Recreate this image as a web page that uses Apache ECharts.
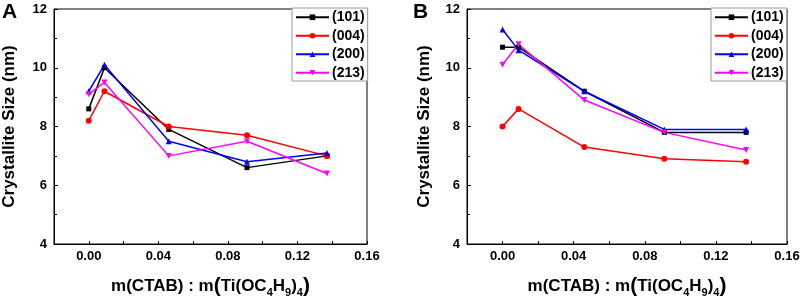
<!DOCTYPE html>
<html>
<head>
<meta charset="utf-8">
<script src="https://cdn.jsdelivr.net/npm/echarts@6/dist/echarts.min.js"></script>
<style>
  html, body { margin: 0; padding: 0; background: #fff; }
  #main { width: 803px; height: 303px; }
</style>
</head>
<body>
<div id="main"></div>
<script>
// x 轴：m(CTAB) : m(Ti(OC4H9)4)
const ratios = [0, 0.009, 0.046, 0.091, 0.137];
const seriesNames = ['(101)', '(004)', '(200)', '(213)'];

// 图 A
const a101 = [8.6, 10.0, 7.9, 6.6, 7.0];
const a004 = [8.2, 9.2, 8.0, 7.7, 7.0];
const a200 = [9.2, 10.1, 7.5, 6.8, 7.1];
const a213 = [9.1, 9.5, 7.0, 7.5, 6.4];

// 图 B
const b101 = [10.7, 10.7, 9.2, 7.8, 7.8];
const b004 = [8.0, 8.6, 7.3, 6.9, 6.8];
const b200 = [11.3, 10.6, 9.2, 7.9, 7.9];
const b213 = [10.1, 10.8, 8.9, 7.8, 7.2];

const colors = ['#000000', '#ff0000', '#0000ff', '#ff00ff'];
const symbols = ['rect', 'circle', 'triangle', 'triangle'];
const rotates = [0, 0, 0, 180];
const font = 'Arial, "Liberation Sans", sans-serif';

const chart = echarts.init(document.getElementById('main'));

function pair(xs, ys) {
    return xs.map((x, i) => [x, ys[i]]);
}

function makeX(idx) {
    return {
        type: 'value', gridIndex: idx,
        min: -0.02, max: 0.16, interval: 0.02,
        name: '{n|m(CTAB) : m}{b|(}{n|Ti(OC}{s|4}{n|H}{s|9}{n|)}{s|4}{b|)}',
        nameLocation: 'middle', nameGap: 30,
        nameTextStyle: {
            fontFamily: font,
            rich: {
                n: { fontSize: 17, fontWeight: 'bold', color: '#000', fontFamily: font, lineHeight: 24, verticalAlign: 'middle' },
                b: { fontSize: 21, fontWeight: 'bold', color: '#000', fontFamily: font, lineHeight: 24, verticalAlign: 'middle' },
                s: { fontSize: 11, fontWeight: 'bold', color: '#000', fontFamily: font, lineHeight: 24, verticalAlign: 'bottom', padding: [7, 0, 0, 0] }
            }
        },
        axisLine: { show: true, onZero: false, lineStyle: { color: '#000', width: 1 } },
        axisTick: { show: true, inside: true, length: 3, lineStyle: { color: '#000' } },
        splitLine: { show: false },
        axisLabel: {
            color: '#000', fontWeight: 'bold', fontSize: 13, fontFamily: font, margin: 6,
            formatter: function (v) {
                const k = Math.round(v * 100);
                if (k < 0 || k % 4 !== 0) return '';
                return (k / 100).toFixed(2);
            }
        }
    };
}

function makeY(idx, gap) {
    return {
        type: 'value', gridIndex: idx,
        min: 4, max: 12, interval: 2,
        name: 'Crystallite Size (nm)',
        nameLocation: 'middle', nameGap: gap,
        nameTextStyle: { color: '#000', fontWeight: 'bold', fontSize: 17, fontFamily: font },
        axisLine: { show: true, onZero: false, lineStyle: { color: '#000', width: 1 } },
        axisTick: { show: true, inside: true, length: 4, lineStyle: { color: '#000' } },
        minorTick: { show: true, splitNumber: 2, length: 3, lineStyle: { color: '#000' } },
        splitLine: { show: false },
        axisLabel: { color: '#000', fontWeight: 'bold', fontSize: 13, fontFamily: font, margin: 7 }
    };
}

function makeSeries(idx, arrs) {
    return arrs.map((ys, i) => ({
        name: seriesNames[i],
        type: 'line',
        xAxisIndex: idx, yAxisIndex: idx,
        data: pair(ratios, ys),
        symbol: symbols[i],
        symbolRotate: rotates[i],
        symbolSize: i === 0 ? 5 : 6,
        color: colors[i],
        lineStyle: { color: colors[i], width: 1.5 },
        itemStyle: { color: colors[i] },
        animation: false
    }));
}

function makeLegend(left) {
    return {
        orient: 'vertical', left: left, top: 8,
        data: seriesNames,
        itemWidth: 33, itemHeight: 7, itemGap: 2,
        padding: [1, 3, 0, 3],
        borderColor: '#999', borderWidth: 1,
        backgroundColor: '#fff',
        selectedMode: false,
        textStyle: { color: '#000', fontWeight: 'bold', fontSize: 14, lineHeight: 16.5, fontFamily: font, padding: [0, 0, 0, -2] }
    };
}

const option = {
    backgroundColor: '#fff',
    animation: false,
    grid: [
        { left: 47, top: 9, width: 320, height: 239, show: true, borderColor: '#000', borderWidth: 1, backgroundColor: 'transparent' },
        { left: 467, top: 9, width: 320, height: 239, show: true, borderColor: '#000', borderWidth: 1, backgroundColor: 'transparent' }
    ],
    xAxis: [makeX(0), makeX(1)],
    yAxis: [makeY(0, 36), makeY(1, 34)],
    legend: [makeLegend(292), makeLegend(711)],
    graphic: [
        { type: 'text', left: 2, top: 2, style: { text: 'A', fontSize: 21, fontWeight: 'bold', fill: '#000', fontFamily: font } },
        { type: 'text', left: 413, top: 2, style: { text: 'B', fontSize: 21, fontWeight: 'bold', fill: '#000', fontFamily: font } }
    ],
    series: makeSeries(0, [a101, a004, a200, a213]).concat(makeSeries(1, [b101, b004, b200, b213]))
};

chart.setOption(option);
</script>
</body>
</html>
